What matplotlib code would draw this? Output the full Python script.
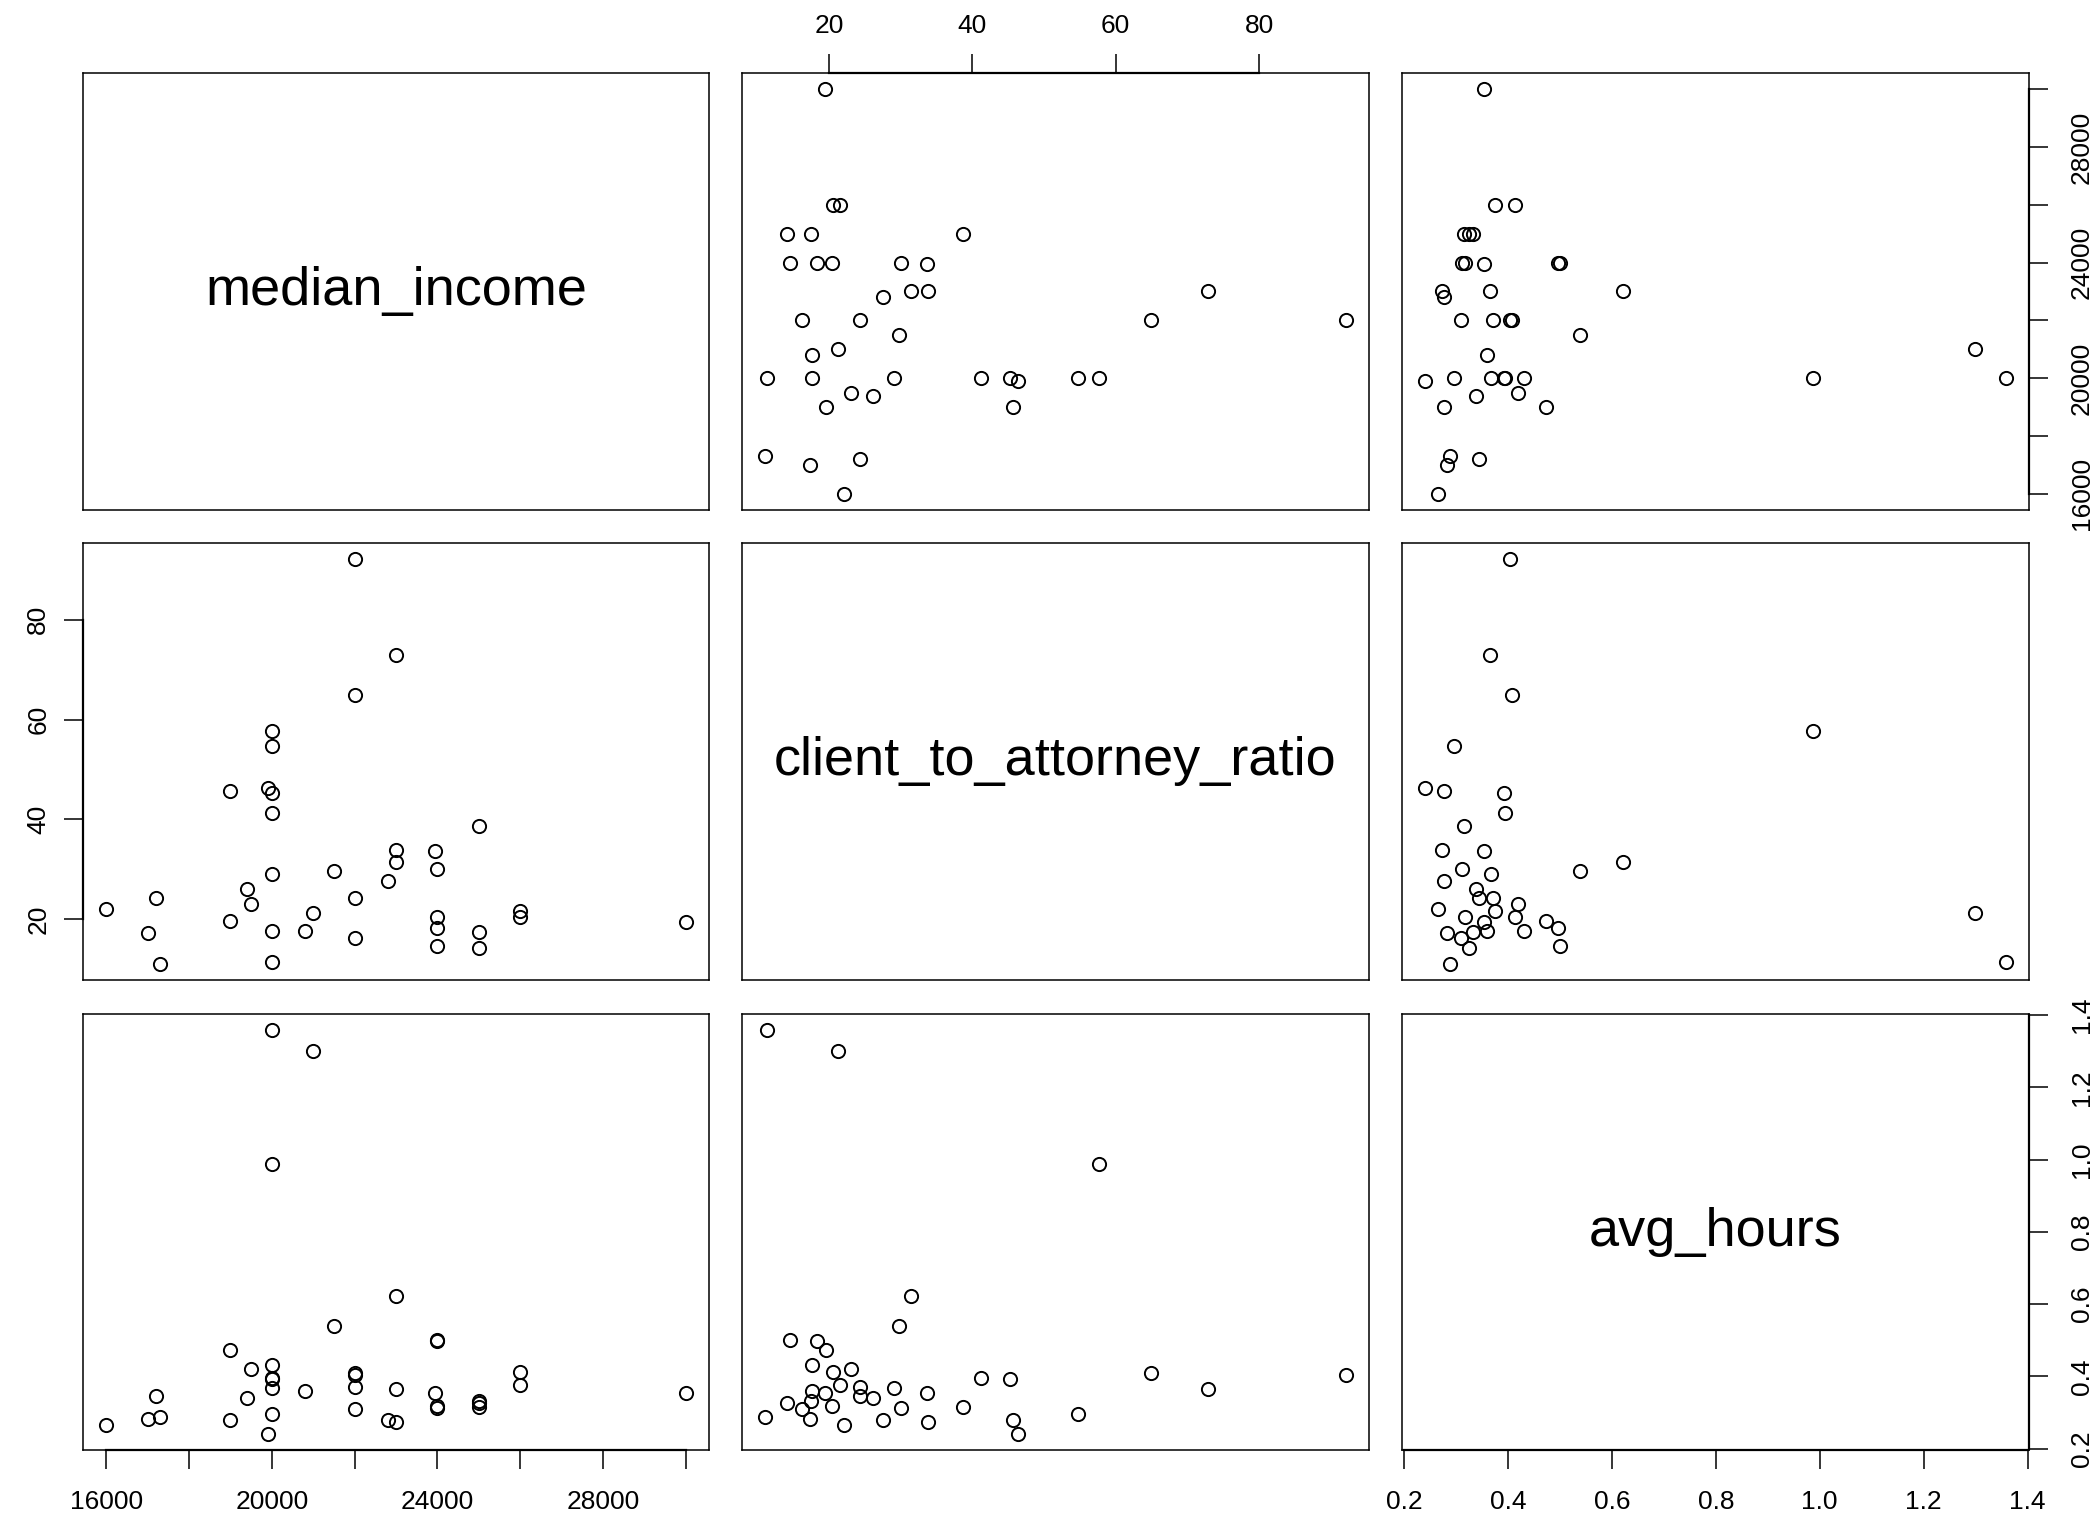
import matplotlib
matplotlib.use("Agg")
import matplotlib.pyplot as plt

plt.rcParams['font.family'] = ['Liberation Sans', 'DejaVu Sans']

# Observations (one entry per office)
median_income = [22000, 23000, 22000, 20000, 20000, 19900, 19000, 20000, 20000, 25000,
                 23000, 23940, 23000, 21500, 24000, 20000, 22800, 19400, 17200, 22000,
                 19500, 16000, 26000, 21000, 24000, 26000, 30000, 19000, 17000, 22000,
                 25000, 20800, 20000, 24000, 24000, 25000, 17300, 20000]
client_to_attorney_ratio = [92.1, 72.9, 64.9, 57.7, 54.8, 46.3, 45.7, 45.3, 41.2, 38.7,
                            33.8, 33.7, 31.5, 29.7, 30.1, 29.1, 27.6, 26.1, 24.3, 24.3,
                            23.1, 22.1, 21.6, 21.2, 20.4, 20.5, 19.5, 19.6, 17.3, 16.3,
                            17.5, 17.6, 17.6, 18.3, 14.6, 14.2, 11.1, 11.4]
avg_hours = [0.405, 0.365, 0.408, 0.988, 0.297, 0.241, 0.278, 0.392, 0.395, 0.316,
             0.274, 0.355, 0.622, 0.539, 0.312, 0.367, 0.278, 0.339, 0.345, 0.372,
             0.420, 0.266, 0.375, 1.299, 0.318, 0.413, 0.355, 0.474, 0.283, 0.310,
             0.332, 0.359, 0.431, 0.497, 0.501, 0.325, 0.289, 1.358]

var_names = ["median_income", "client_to_attorney_ratio", "avg_hours"]

income_ticks = [16000, 18000, 20000, 22000, 24000, 26000, 28000, 30000]
income_labels = ["16000", "", "20000", "", "24000", "", "28000", ""]
ratio_ticks = [20, 40, 60, 80]
ratio_labels = ["20", "40", "60", "80"]
hours_ticks = [0.2, 0.4, 0.6, 0.8, 1.0, 1.2, 1.4]
hours_labels = ["0.2", "0.4", "0.6", "0.8", "1.0", "1.2", "1.4"]

columns = [median_income, client_to_attorney_ratio, avg_hours]
tick_sets = [(income_ticks, income_labels), (ratio_ticks, ratio_labels),
             (hours_ticks, hours_labels)]

W, H = 2094, 1522
fig = plt.figure(figsize=(W / 100, H / 100), dpi=100)
fig.patch.set_facecolor("white")

col_px = [(83, 709), (742, 1369), (1402, 2029)]
row_px = [(73, 510), (543, 980), (1014, 1450)]

TICK_LEN = 13.5
FS = 19


def padded(v):
    lo, hi = min(v), max(v)
    r = hi - lo
    return lo - 0.04 * r, hi + 0.04 * r


def side_axis(ax, side, ticks, labels, pad):
    if side in ("bottom", "top"):
        ax.set_xticks(ticks)
        ax.set_xticklabels(labels)
        ax.xaxis.set_ticks_position(side)
        ax.tick_params(axis="x", direction="out", length=TICK_LEN, width=1.1,
                       pad=pad, labelsize=FS, colors="black")
        ypos = 0 if side == "bottom" else 1
        ax.plot([ticks[0], ticks[-1]], [ypos, ypos], color="black", lw=1.6,
                transform=ax.get_xaxis_transform(), clip_on=False, zorder=5)
    else:
        ax.set_yticks(ticks)
        ax.set_yticklabels(labels)
        ax.yaxis.set_ticks_position(side)
        ax.tick_params(axis="y", direction="out", length=TICK_LEN, width=1.1,
                       pad=pad, labelsize=FS, colors="black")
        for lab in ax.get_yticklabels():
            lab.set_rotation(90)
            lab.set_va("center")
            lab.set_ha("right" if side == "left" else "left")
        xpos = 0 if side == "left" else 1
        ax.plot([xpos, xpos], [ticks[0], ticks[-1]], color="black", lw=1.6,
                transform=ax.get_yaxis_transform(), clip_on=False, zorder=5)


for i in range(3):
    for j in range(3):
        x0, x1 = col_px[j]
        y0, y1 = row_px[i]
        ax = fig.add_axes([x0 / W, 1 - y1 / H, (x1 - x0) / W, (y1 - y0) / H])
        for sp in ax.spines.values():
            sp.set_linewidth(1.1)
            sp.set_color("black")
        ax.set_xticks([])
        ax.set_yticks([])
        if i == j:
            ax.text(0.5, 0.5, var_names[i], ha="center", va="center",
                    fontsize=39, transform=ax.transAxes)
        else:
            ax.plot(columns[j], columns[i], "o", mfc="none", mec="black",
                    ms=9.5, mew=1.4)
        ax.set_xlim(*padded(columns[j]))
        ax.set_ylim(*padded(columns[i]))

        # axes alternate around the matrix edges
        if i == 0 and j % 2 == 1:
            side_axis(ax, "top", *tick_sets[j], pad=12)
        if i == 2 and j % 2 == 0:
            side_axis(ax, "bottom", *tick_sets[j], pad=15.5)
        if j == 0 and i % 2 == 1:
            side_axis(ax, "left", *tick_sets[i], pad=10)
        if j == 2 and i % 2 == 0:
            side_axis(ax, "right", *tick_sets[i], pad=16)
        ax.set_xlim(*padded(columns[j]))
        ax.set_ylim(*padded(columns[i]))

fig.savefig("out.png", dpi=100, facecolor="white")
